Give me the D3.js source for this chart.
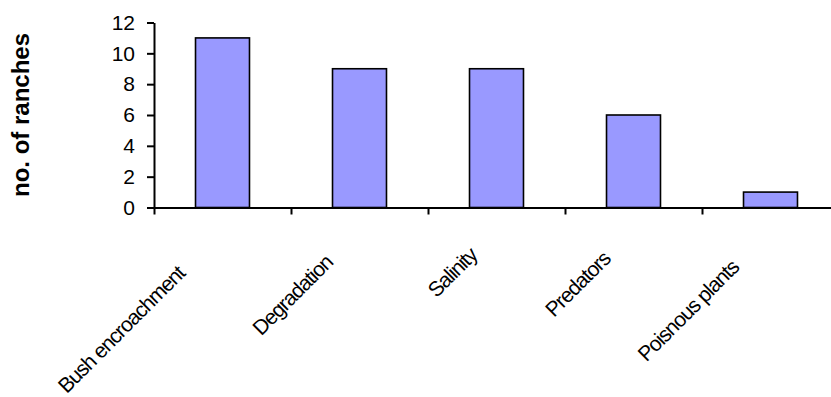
<!DOCTYPE html>
<html>
<head>
<meta charset="utf-8">
<script src="https://cdn.jsdelivr.net/npm/d3@7"></script>
<style>
  html, body { margin: 0; padding: 0; background: #fff; }
  svg { display: block; font-family: Arial, "Liberation Sans", sans-serif; }
</style>
</head>
<body>
<svg id="chart" width="831" height="397"></svg>
<script>
const categories = ["Bush encroachment", "Degradation", "Salinity", "Predators", "Poisnous plants"];
const values = [11, 9, 9, 6, 1];
const yTicks = [0, 2, 4, 6, 8, 10, 12];
const yTitle = "no. of ranches";

const svg = d3.select("#chart");
const plotLeft = 154, step = 137, plotTop = 22.5, plotBottom = 207.5;

const x = d3.scaleBand()
  .domain(categories)
  .range([plotLeft, plotLeft + step * categories.length])
  .paddingInner(0.606)
  .paddingOuter(0.303);

const y = d3.scaleLinear().domain([0, 12]).range([plotBottom, plotTop]);

// bars
svg.append("g").selectAll("rect")
  .data(categories)
  .join("rect")
  .attr("x", d => x(d))
  .attr("y", (d, i) => y(values[i]))
  .attr("width", x.bandwidth())
  .attr("height", (d, i) => y(0) - y(values[i]))
  .attr("fill", "#9999FF")
  .attr("stroke", "#000")
  .attr("stroke-width", 1.6);

// y axis
const yAxis = svg.append("g")
  .attr("transform", `translate(${plotLeft},0)`)
  .call(d3.axisLeft(y).tickValues(yTicks).tickSize(7).tickSizeOuter(0).tickPadding(12));
yAxis.selectAll("path, line").attr("stroke", "#000").attr("stroke-width", 2);
yAxis.selectAll("text").attr("font-size", 21).attr("fill", "#000")
  .attr("font-family", 'Arial, "Liberation Sans", sans-serif');

// x axis (ticks at category boundaries)
const xb = d3.scaleLinear().domain([0, categories.length]).range(x.range());
const xAxis = svg.append("g")
  .attr("transform", `translate(0,${plotBottom})`)
  .call(d3.axisBottom(xb).tickValues(d3.range(categories.length + 1)).tickSize(7).tickSizeOuter(0).tickFormat(""));
xAxis.selectAll("path, line").attr("stroke", "#000").attr("stroke-width", 2);

// category labels, rotated -45
const labels = svg.append("g").selectAll("text")
  .data(categories)
  .join("text")
  .attr("font-size", 21)
  .attr("letter-spacing", "-1.05px")
  .attr("fill", "#000")
  .attr("text-anchor", "middle")
  .attr("dy", "0.35em")
  .text(d => d);
labels.each(function(d) {
  const L = this.getComputedTextLength();
  const bc = x(d) + x.bandwidth() / 2;
  const cy = plotBottom + 34 + 0.52 * L;
  const cx = bc + 228 - cy;
  d3.select(this).attr("transform", `translate(${cx},${cy}) rotate(-45)`);
});

// y title
svg.append("text")
  .attr("transform", `translate(29,${(plotTop + plotBottom) / 2}) rotate(-90)`)
  .attr("text-anchor", "middle")
  .attr("font-size", 24)
  .attr("font-weight", "bold")
  .attr("fill", "#000")
  .text(yTitle);
</script>
</body>
</html>
